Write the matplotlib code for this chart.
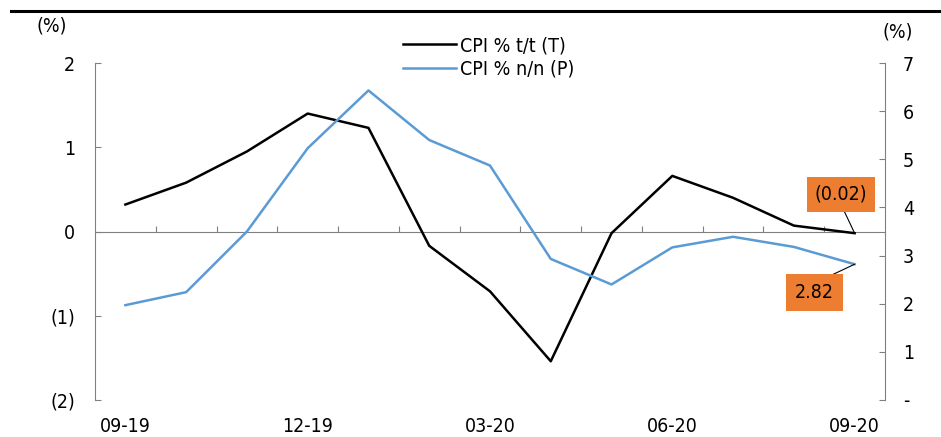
#!/usr/bin/env python3

import numpy as np
import matplotlib
matplotlib.use("Agg")
from matplotlib import pyplot as plt
from matplotlib.lines import Line2D
import matplotlib.transforms as mtransforms

# monthly CPI, 09-19 .. 09-20
months = ['09-19', '10-19', '11-19', '12-19', '01-20', '02-20', '03-20',
          '04-20', '05-20', '06-20', '07-20', '08-20', '09-20']
cpi_mom = [0.32, 0.58, 0.95, 1.40, 1.23, -0.17, -0.71, -1.54, -0.02, 0.66, 0.40, 0.07, -0.02]
cpi_yoy = [1.97, 2.24, 3.50, 5.23, 6.43, 5.40, 4.87, 2.93, 2.40, 3.17, 3.39, 3.18, 2.82]
label_every = 3

left_ticks = [2, 1, 0, -1, -2]
left_ticklabels = ['2', '1', '0', '(1)', '(2)']
right_ticks = [7, 6, 5, 4, 3, 2, 1, 0]
right_ticklabels = ['7', '6', '5', '4', '3', '2', '1', '-']

BLUE = '#5B9BD5'
ORANGE = '#ED7D31'
GREY = '#808080'
FS = 14

plt.rcParams['font.family'] = ['DejaVu Sans']
plt.rcParams['font.stretch'] = 'condensed'

W, H = 941, 437
fig = plt.figure(figsize=(W / 100, H / 100), dpi=100)
ax = fig.add_axes([95 / W, 1 - 400 / H, (885 - 95) / W, (400 - 63) / H])
ax2 = ax.twinx()

x = np.arange(len(months))
l1, = ax.plot(x, cpi_mom, color='black', lw=1.8, label='CPI % t/t (T)', zorder=3)
l2, = ax2.plot(x, cpi_yoy, color=BLUE, lw=1.8, label='CPI % n/n (P)', zorder=3)

ax.set_xlim(-0.5, len(months) - 0.5)
ax.set_ylim(-2, 2)
ax2.set_ylim(0, 7)

# category axis drawn on the zero line, ticks pointing up
ax.spines['bottom'].set_position(('data', 0))
ax.spines['bottom'].set_color(GREY)
ax.spines['top'].set_visible(False)
ax.spines['right'].set_visible(False)
ax.spines['left'].set_color(GREY)
ax2.spines['top'].set_visible(False)
ax2.spines['bottom'].set_visible(False)
ax2.spines['left'].set_visible(False)
ax2.spines['right'].set_color(GREY)

ax.set_xticks(np.arange(0.5, len(months) - 0.5, 1))
ax.tick_params(axis='x', direction='in', length=4.5, color=GREY, labelbottom=False)

trans = mtransforms.blended_transform_factory(ax.transData, ax.transAxes)
for i in range(0, len(months), label_every):
    ax.text(i, -0.05, months[i], transform=trans, ha='center', va='top', fontsize=FS)

ax.set_yticks(left_ticks)
ax.set_yticklabels(left_ticklabels, fontsize=FS)
ax.tick_params(axis='y', direction='in', length=4.5, color=GREY, pad=14.5)
ax2.set_yticks(right_ticks)
ax2.set_yticklabels(right_ticklabels, fontsize=FS)
ax2.tick_params(axis='y', direction='in', length=4.5, color=GREY, pad=13)

fig.text(52 / W, 1 - 26 / H, '(%)', ha='center', va='center', fontsize=FS)
fig.text(898 / W, 1 - 32 / H, '(%)', ha='center', va='center', fontsize=FS)

# data labels on the last point
last = len(months) - 1
ax.annotate('(%.2f)' % abs(cpi_mom[last]), xy=(last, cpi_mom[last]),
            xytext=(-10, 28), textcoords='offset points', ha='center', va='center',
            fontsize=FS, bbox=dict(boxstyle='square,pad=0.4', fc=ORANGE, ec='none'),
            arrowprops=dict(arrowstyle='-', color='black', lw=0.8, shrinkA=0, shrinkB=0,
                            relpos=(0.5, 0)))
ax2.annotate('%.2f' % cpi_yoy[last], xy=(last, cpi_yoy[last]),
             xytext=(-29, -20.5), textcoords='offset points', ha='center', va='center',
             fontsize=FS, bbox=dict(boxstyle='square,pad=0.45', fc=ORANGE, ec='none'),
             arrowprops=dict(arrowstyle='-', color='black', lw=0.8, shrinkA=0, shrinkB=0,
                             relpos=(0.5, 1)))

fig.legend(handles=[l1, l2], loc='upper left', bbox_to_anchor=(403 / W, 1 - 36 / H),
           frameon=False, fontsize=FS, handlelength=2.7, handletextpad=0.25,
           labelspacing=0.25, borderpad=0, borderaxespad=0)

fig.add_artist(Line2D([11 / W, 1], [1 - 11 / H, 1 - 11 / H], color='black', lw=2.2,
                      transform=fig.transFigure))

fig.savefig('out.png', dpi=100)
